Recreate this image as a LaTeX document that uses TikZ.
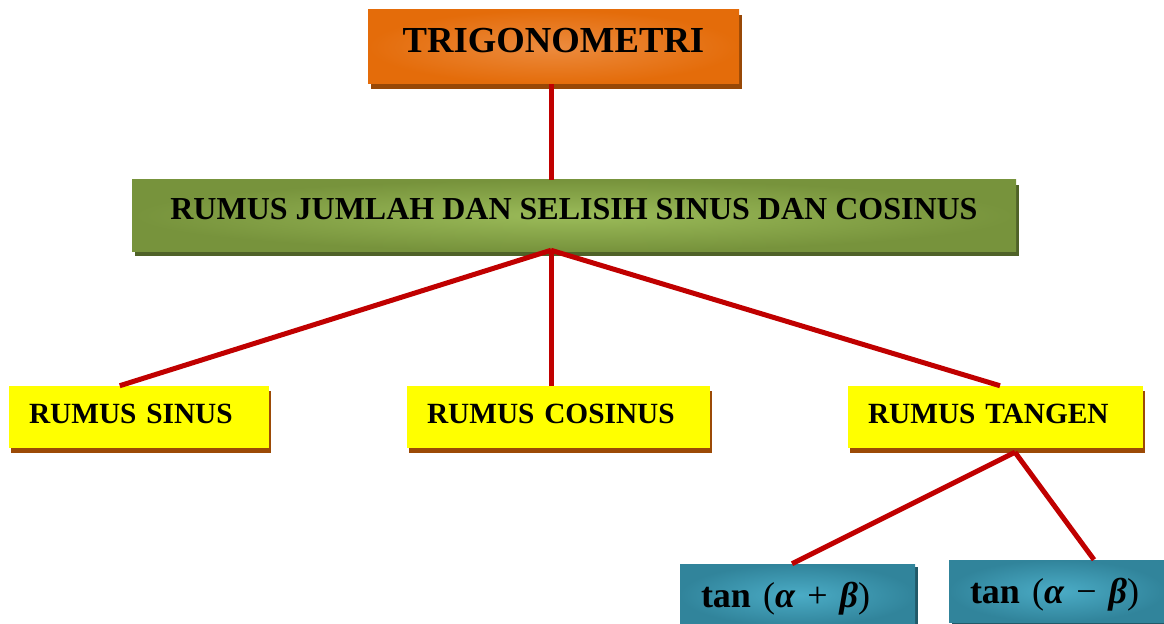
\documentclass[tikz,border=0pt]{standalone}
\usepackage{fontspec}
\setmainfont{Liberation Serif}
\usetikzlibrary{shadows,calc}
\definecolor{orngA}{HTML}{E46C0A}
\definecolor{orngB}{HTML}{EC8B3E}
\definecolor{orngS}{HTML}{984806}
\definecolor{grnA}{HTML}{77933C}
\definecolor{grnB}{HTML}{9BBB59}
\definecolor{grnS}{HTML}{4F6228}
\definecolor{yelF}{RGB}{255,255,0}
\definecolor{yelS}{HTML}{9C4A06}
\definecolor{tealA}{HTML}{31849B}
\definecolor{tealB}{HTML}{4BACC6}
\definecolor{tealS}{HTML}{215968}
\definecolor{linkred}{HTML}{C00000}
\newcommand{\rp}[1]{{\mdseries #1}}
\begin{document}
\begin{tikzpicture}[x=0.75pt,y=-0.75pt,
  basebox/.style={rectangle, inner sep=0pt, font=\bfseries},
  orangebox/.style={basebox, shade, inner color=orngB, outer color=orngA,
    general shadow={fill=orngS, shadow xshift=2.25pt, shadow yshift=-3.75pt},
    font=\bfseries\fontsize{27.5}{30}\selectfont, text height=18.5pt, text depth=9.5pt},
  greenbox/.style={basebox, shade, inner color=grnB, outer color=grnA,
    general shadow={fill=grnS, shadow xshift=2pt, shadow yshift=-3.75pt},
    font=\bfseries\fontsize{24}{28}\selectfont, text height=16pt, text depth=10.3pt},
  yellowbox/.style={basebox, fill=yelF,
    general shadow={fill=yelS, shadow xshift=1.5pt, shadow yshift=-3.75pt},
    font=\bfseries\fontsize{22}{26}\selectfont, text height=15pt, text depth=6pt,
    inner xsep=15pt, align=left, minimum height=46.5pt},
  tealbox/.style={basebox, shade, inner color=tealB, outer color=tealA,
    general shadow={fill=tealS, shadow xshift=2.25pt, shadow yshift=-2pt},
    font=\bfseries\fontsize{27}{30}\selectfont, text height=20pt, text depth=2pt,
    inner xsep=15.75pt, align=left, minimum height=46.5pt},
  link/.style={draw=linkred, line width=3.75pt}
]
\useasboundingbox (0,0) rectangle (1164,624);

\node[orangebox, minimum width=278.25pt, minimum height=55.5pt] (trig) at (553.5,47) {TRIGONOMETRI};
\node[greenbox, minimum width=663pt, minimum height=53.25pt] (jumlah) at (574,215.5) {RUMUS JUMLAH DAN SELISIH SINUS DAN COSINUS};
\node[yellowbox, text width=165pt] (sin) at (139,417) {RUMUS SINUS};
\node[yellowbox, text width=197.25pt] (cos) at (558.5,417) {RUMUS COSINUS};
\node[yellowbox, text width=191.25pt] (tg) at (995.5,417) {RUMUS TANGEN};
\node[tealbox, text width=144.75pt] (tplus) at (797.5,595) {tan \rp{(}\textit{α} \rp{+} \textit{β}\rp{)}};
\node[tealbox, text width=130.5pt] (tminus) at (1057,591) {tan \rp{(}\textit{α} \rp{−} \textit{β}\rp{)}};

\coordinate (jb) at ([xshift=-17.25pt,yshift=0.75pt]jumlah.south);
\coordinate (tb) at ([xshift=14.625pt,yshift=-3pt]tg.south);

\draw[link] ([xshift=-1.875pt]trig.south) -- ([xshift=-1.875pt]trig.south |- jumlah.north);
\draw[link] (jb) -- ([xshift=83.25pt]sin.north west);
\draw[link] (jb) -- ([xshift=-5.625pt]cos.north);
\draw[link] (jb) -- ([xshift=3.375pt]tg.north);
\draw[link] (tb) -- ([xshift=-4.125pt]tplus.north);
\draw[link] (tb) -- ([xshift=27.75pt]tminus.north);
\end{tikzpicture}
\end{document}
